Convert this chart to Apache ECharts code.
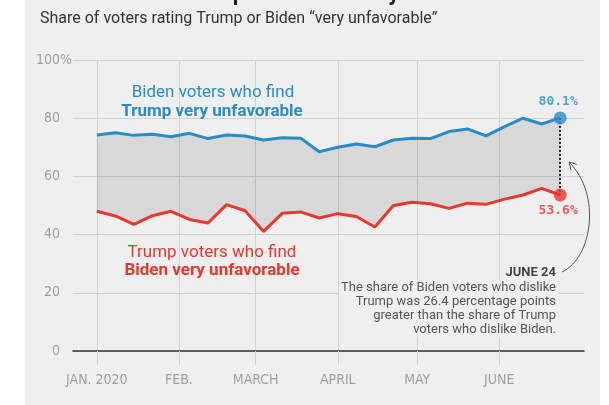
<!DOCTYPE html>
<html>
<head>
<meta charset="utf-8">
<script src="https://cdn.jsdelivr.net/npm/echarts@6/dist/echarts.min.js"></script>
<style>
html,body{margin:0;padding:0;}
body{width:609px;height:405px;background:linear-gradient(to right,#ffffff 0px,#ffffff 25px,#efefef 25px,#efefef 600px,#ffffff 600px);}
#chart{width:609px;height:405px;}
</style>
</head>
<body>
<div id="chart"></div>
<script>
// ---- data ----
const pollDates = ['2020-01-01','2020-01-08','2020-01-15','2020-01-22','2020-01-29',
  '2020-02-05','2020-02-12','2020-02-19','2020-02-26',
  '2020-03-04','2020-03-11','2020-03-18','2020-03-25',
  '2020-04-01','2020-04-08','2020-04-15','2020-04-22','2020-04-29',
  '2020-05-06','2020-05-13','2020-05-20','2020-05-27',
  '2020-06-03','2020-06-10','2020-06-17','2020-06-24'];
const bidenVotersTrumpVeryUnfav = [74.2,75.0,74.1,74.5,73.6,74.8,73.0,74.2,73.9,72.5,73.3,73.1,68.5,70.0,71.1,70.2,72.5,73.1,73.0,75.4,76.3,73.9,77.1,80.0,78.0,80.1];
const trumpVotersBidenVeryUnfav = [48.0,46.4,43.5,46.5,48.0,45.2,44.0,50.3,48.2,41.1,47.3,47.8,45.7,47.2,46.2,42.6,50.0,51.1,50.6,49.0,50.8,50.4,52.2,53.6,55.9,53.6];
const monthTickDates = ['2020-01-01','2020-02-01','2020-03-01','2020-04-01','2020-05-01','2020-06-01'];
const monthTickLabels = ['JAN. 2020','FEB.','MARCH','APRIL','MAY','JUNE'];
const yTicks = [0,20,40,60,80,100];
const xRange = ['2019-12-23','2020-07-03'];

// ---- helpers ----
function ts(s){const p=s.split('-').map(Number);return Date.UTC(p[0],p[1]-1,p[2]);}
const BLUE='#2a8cc7', RED='#e8372c', GRID='#d2d2d2', LABEL='#a0a0a0';
const NARROW="'Liberation Sans Narrow','DejaVu Sans Condensed','Roboto Condensed',sans-serif";
const SANS="Roboto,'Helvetica Neue',Arial,sans-serif";
const MONO="'DejaVu Sans Mono',monospace";
const monthTs = monthTickDates.map(ts);
const blueSeries = pollDates.map((d,i)=>[ts(d), bidenVotersTrumpVeryUnfav[i]]);
const redSeries = pollDates.map((d,i)=>[ts(d), trumpVotersBidenVeryUnfav[i]]);
const bandData = pollDates.map((d,i)=>[ts(d), bidenVotersTrumpVeryUnfav[i], trumpVotersBidenVeryUnfav[i]]);
const last = pollDates.length-1;
const lastT = ts(pollDates[last]);

const chart = echarts.init(document.getElementById('chart'), null, {renderer:'canvas'});
chart.setOption({
  animation:false,
  backgroundColor:'transparent',
  grid:{left:73,right:25,top:60,bottom:54},
  xAxis:{
    type:'value', min:ts(xRange[0]), max:ts(xRange[1]),
    axisLine:{show:true,lineStyle:{color:'#333',width:1.5}},
    axisTick:{show:true,customValues:monthTs,length:14,lineStyle:{color:GRID}},
    axisLabel:{customValues:monthTs,margin:22,color:LABEL,fontFamily:NARROW,fontSize:14,
      formatter:function(v){const i=monthTs.indexOf(v);return i>=0?monthTickLabels[i]:'';}},
    splitLine:{show:true,lineStyle:{color:GRID,width:1}}
  },
  yAxis:{
    type:'value', min:yTicks[0], max:yTicks[yTicks.length-1], interval:20,
    axisLine:{show:false}, axisTick:{show:false},
    splitLine:{lineStyle:{color:GRID,width:1}},
    axisLabel:{margin:1,
      formatter:function(v){return v===100?'{n|100%}':'{n|'+v+'}{h|%}';},
      rich:{n:{color:LABEL,fontFamily:NARROW,fontSize:14},h:{color:'rgba(0,0,0,0)',fontFamily:NARROW,fontSize:14}}}
  },
  series:[
    {name:'gap',type:'custom',silent:true,z:1,data:bandData,encode:{x:0,y:[1,2]},
      renderItem:function(params,api){
        if(params.dataIndex!==0) return null;
        const pts=[];
        for(let i=0;i<bandData.length;i++) pts.push(api.coord([bandData[i][0],bandData[i][1]]));
        for(let i=bandData.length-1;i>=0;i--) pts.push(api.coord([bandData[i][0],bandData[i][2]]));
        return {type:'polygon',shape:{points:pts},style:{fill:'rgba(0,0,0,0.095)'}};
      }},
    {name:'Biden voters',type:'line',data:blueSeries,symbol:'none',lineStyle:{color:BLUE,width:3},z:3},
    {name:'Trump voters',type:'line',data:redSeries,symbol:'none',lineStyle:{color:RED,width:3},z:3},
    {name:'ends',type:'scatter',z:5,symbolSize:13,
      data:[
        {value:[lastT,bidenVotersTrumpVeryUnfav[last]],itemStyle:{color:BLUE},
          label:{show:true,position:'top',distance:3,color:BLUE,fontFamily:MONO,fontWeight:'bold',fontSize:13,offset:[-2,0],
            formatter:function(p){return p.value[1].toFixed(1)+'%';}}},
        {value:[lastT,trumpVotersBidenVeryUnfav[last]],itemStyle:{color:RED},
          label:{show:true,position:'bottom',distance:3,color:RED,fontFamily:MONO,fontWeight:'bold',fontSize:13,offset:[-2,0],
            formatter:function(p){return p.value[1].toFixed(1)+'%';}}}
      ],
      markLine:{silent:true,symbol:'none',z:4,label:{show:false},
        lineStyle:{color:'#222',type:[2,2],width:2},
        data:[[{coord:[lastT,bidenVotersTrumpVeryUnfav[last]]},{coord:[lastT,trumpVotersBidenVeryUnfav[last]]}]]}
    }
  ],
  graphic:[
    {type:'text',x:40,y:-6,style:{text:'Voters dislike Trump more than they dislike Biden',font:'bold 22px '+SANS,fill:'#222',verticalAlign:'middle'}},
    {type:'text',x:40,y:19,style:{text:'Share of voters rating Trump or Biden \u201cvery unfavorable\u201d',font:'16px '+SANS,fill:'#333',verticalAlign:'middle'}},
    {type:'text',x:213,y:93,z:10,style:{text:'Biden voters who find',font:'17px '+SANS,fill:BLUE,align:'center',verticalAlign:'middle'}},
    {type:'text',x:212,y:112,z:10,style:{text:'Trump very unfavorable',font:'bold 17px '+SANS,fill:BLUE,align:'center',verticalAlign:'middle'}},
    {type:'text',x:212,y:253,z:10,style:{text:'Trump voters who find',font:'17px '+SANS,fill:RED,align:'center',verticalAlign:'middle'}},
    {type:'text',x:212,y:271,z:10,style:{text:'Biden very unfavorable',font:'bold 17px '+SANS,fill:RED,align:'center',verticalAlign:'middle'}},
    {type:'text',x:556,y:273,z:10,style:{text:'JUNE 24',font:'bold 13px '+SANS,fill:'#444',align:'right',verticalAlign:'middle'}},
    {type:'text',x:558,y:281,z:10,style:{text:'The share of Biden voters who dislike\nTrump was 26.4 percentage points\ngreater than the share of Trump\nvoters who dislike Biden.',
      font:'13px '+SANS,fill:'#555',align:'right',verticalAlign:'top',lineHeight:14,backgroundColor:'#efefef',padding:[0,2]}},
    {type:'bezierCurve',z:10,shape:{x1:562,y1:272,cpx1:592,cpy1:258,cpx2:602,cpy2:195,x2:569,y2:162},style:{stroke:'#555',lineWidth:1,fill:null}},
    {type:'polyline',z:10,shape:{points:[[576.7,164.4],[569,162],[570.9,169.8]]},style:{stroke:'#555',lineWidth:1,fill:null}}
  ]
});
</script>
</body>
</html>
